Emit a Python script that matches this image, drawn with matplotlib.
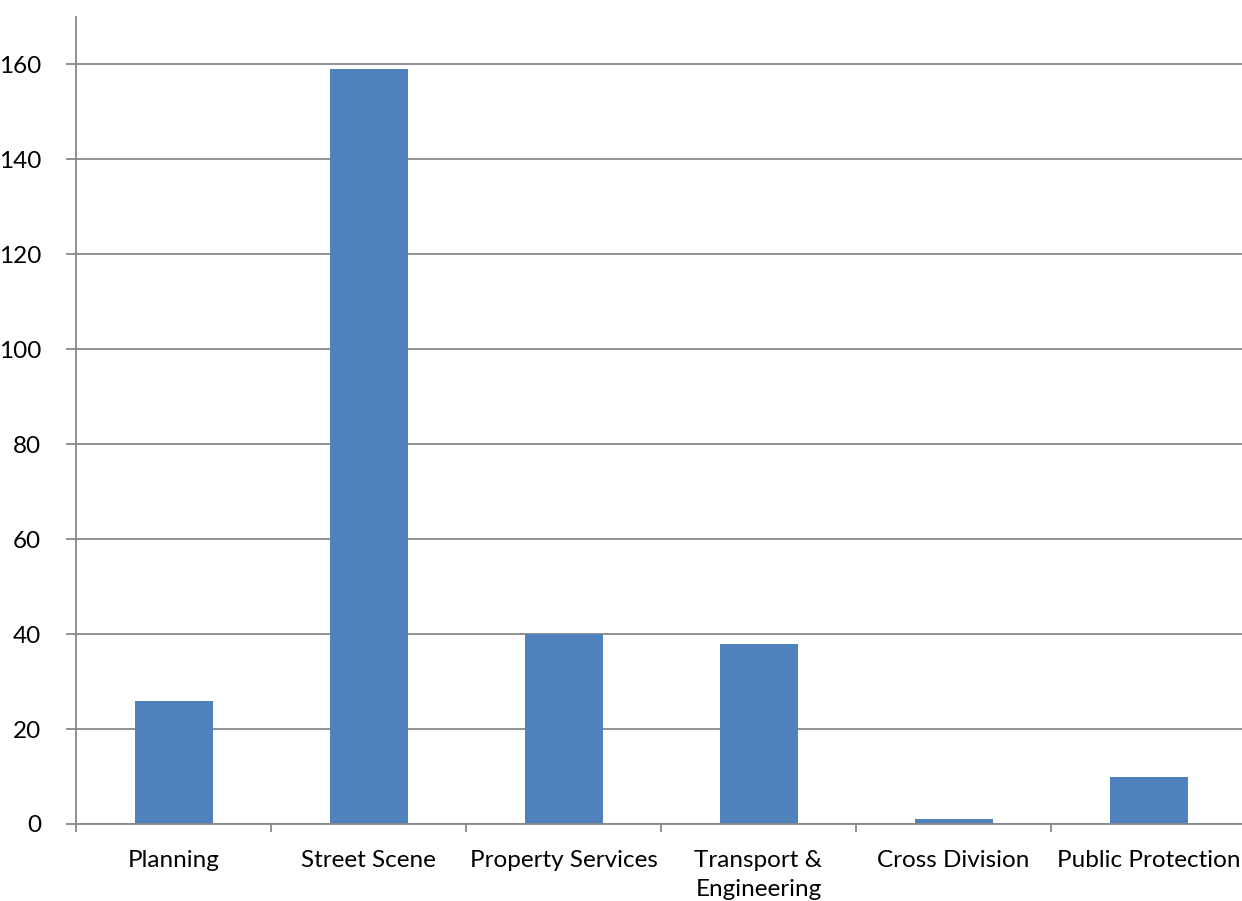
import matplotlib
matplotlib.use('Agg')
import matplotlib.pyplot as plt
import numpy as np

categories = ['Planning', 'Street Scene', 'Property Services',
              'Transport &\nEngineering', 'Cross Division', 'Public Protection']
values = [26, 159, 40, 38, 1, 10]
y_ticks = [0, 20, 40, 60, 80, 100, 120, 140, 160]

plt.rcParams['font.family'] = ['Lato', 'DejaVu Sans']

fig = plt.figure(figsize=(12.42, 9.01), dpi=100)
ax = fig.add_axes([76 / 1242, 1 - 824 / 901, 1170 / 1242, (824 - 17) / 901])

centers = np.arange(len(categories)) + 0.5
ax.bar(centers, values, width=0.4, color='#4F81BD', zorder=3)

ax.set_xlim(0, len(categories))
ax.set_ylim(0, 170)
ax.set_yticks(y_ticks)
ax.set_yticklabels([str(v) for v in y_ticks], fontsize=17.5)
ax.set_xticks(centers)
ax.set_xticklabels(categories, fontsize=17.5, va='top', linespacing=1.45)
ax.set_xticks(np.arange(len(categories) + 1), minor=True)
ax.tick_params(axis='x', which='major', length=0, pad=19)
ax.tick_params(axis='x', which='minor', length=6, width=1.3, color='#888888', direction='out')
ax.tick_params(axis='y', length=7, width=1.3, color='#888888', direction='out', pad=18)

ax.yaxis.grid(True, color='#888888', linewidth=1.3, zorder=0)
for side in ['top', 'right']:
    ax.spines[side].set_visible(False)
for side in ['left', 'bottom']:
    ax.spines[side].set_color('#888888')
    ax.spines[side].set_linewidth(1.3)
    ax.spines[side].set_zorder(4)

fig.savefig('out.png', dpi=100)
